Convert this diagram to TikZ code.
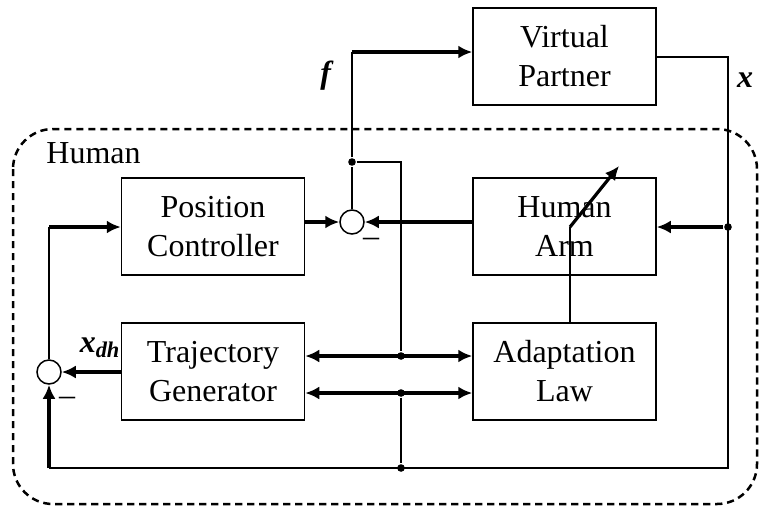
\documentclass[tikz,border=0pt]{standalone}
\usepackage{fontspec}
\setmainfont{Liberation Serif}
\usetikzlibrary{positioning,arrows.meta}

\begin{document}
\begin{tikzpicture}[x = 0.5pt, y = -0.5pt, on grid,
                    node distance = 72.5pt and 175.75pt,
                    font = \fontsize{16}{19.5}\selectfont,
                    > = {Latex[length = 7pt, width = 6.5pt]},
                    line width = 0.75pt,
                    block/.style = {rectangle,
                                    draw,
                                    align = center,
                                    minimum width = 91.5pt,
                                    minimum height = 48.5pt,
                                    inner sep = 0pt},
                    sum/.style   = {circle,
                                    draw,
                                    fill = white,
                                    minimum size = 12pt,
                                    inner sep = 0pt},
                    sig/.style   = {line width = 1.6pt},
                    dot/.style   = {circle,
                                    fill,
                                    minimum size = 3.8pt,
                                    inner sep = 0pt},
                    human/.style = {dashed,
                                    dash pattern = on 3.6pt off 2.4pt,
                                    line width = 1.25pt,
                                    rounded corners = 20pt}]
\useasboundingbox (0,0) rectangle (760,510);

% human boundary
\draw[human] (13,129) rectangle (757,504);
\node[anchor = base west] (hlabel) at (39,163) {Human};

% blocks
\node[block] (pc) at (213,226.5) {Position\\Controller};
\node[block] (arm) [right = of pc] {Human\\Arm};
\node[block] (tg) [below = of pc] {Trajectory\\Generator};
\node[block] (law) [below = of arm] {Adaptation\\Law};
\node[block] (vp) [above = 85pt of arm] {Virtual\\Partner};

\node[sum] (s1) at (352,222) {};
\node[sum] (s2) at (49,372) {};
\node (m1) at (371,242) {--};
\node (m2) at (67,401) {--};

% junctions
\node[dot] (jf) at (352,162) {};
\node[dot] (ja) at (401,356) {};
\node[dot] (jb) at (401,393) {};
\node[dot] (jc) at (401,468) {};
\node[dot] (jx) at (728,227) {};
\coordinate (fup) at (352,52);
\coordinate (fr) at (401,162);
\coordinate (xr) at (728,57);
\coordinate (xb) at (728,468);
\coordinate (bl) at (49,468);
\coordinate (pl) at (49,227);
\coordinate (gk) at (570,227);
\coordinate (gtip) at (619,166);

% force loop
\draw[sig, ->] (pc.east |- s1) -- (s1);
\draw[sig, ->] (arm.west |- s1) -- (s1);
\draw (s1) -- (jf) -- (fup);
\draw[sig, ->] (fup) -- (fup -| vp.west);
\draw (jf) -- (fr) -- (ja) (jb) -- (jc);

% position loop
\draw (vp.east |- xr) -- (xr) -- (xb) -- (bl);
\draw[sig, ->] (bl) -- (s2);
\draw[sig, ->] (jx) -- (arm.east |- jx);
\draw[sig, ->] (tg.west |- s2) -- (s2)
    node[pos = 0.35, above = 10pt, anchor = base] (xdh)
    {\textbf{\textit{x}}\textsubscript{\textbf{\textit{dh}}}};
\draw (s2) -- (pl);
\draw[sig, ->] (pl) -- (pc.west |- pl);

% adaptation
\draw[sig, <->] (tg.east |- ja) -- (law.west |- ja);
\draw[sig, <->] (tg.east |- jb) -- (law.west |- jb);
\draw (law.north -| gk) -- (gk);
\draw[sig, ->] (gk) -- (gtip);

% signal names
\node[anchor = base] (flabel) at (327,83) {\textbf{\textit{f}}};
\node[anchor = base] (xlabel) at (745,87) {\textbf{\textit{x}}};

\end{tikzpicture}
\end{document}
